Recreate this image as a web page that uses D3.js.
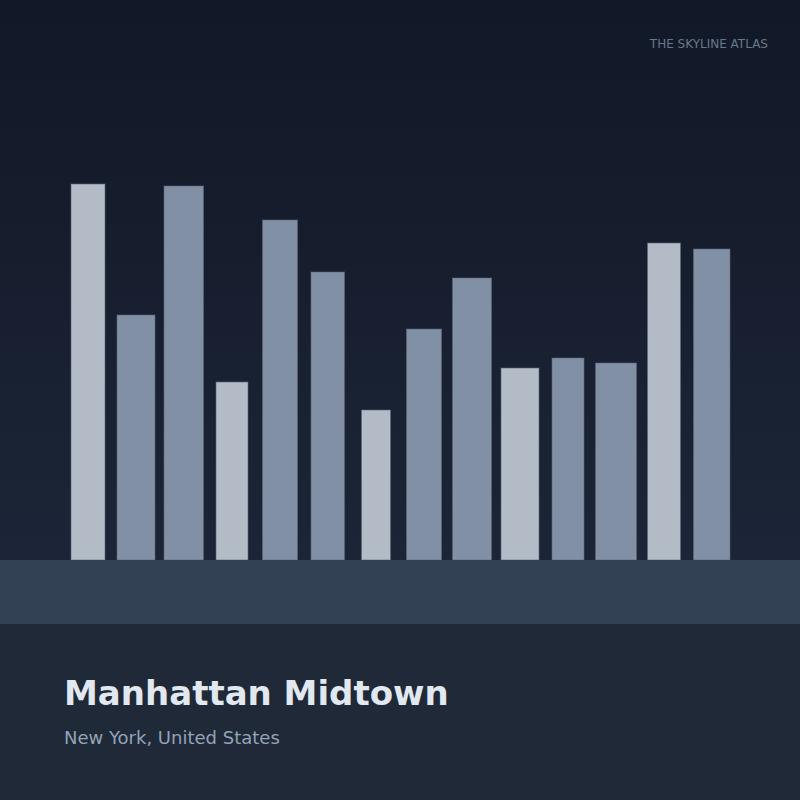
<!DOCTYPE html>
<html>
<head>
<meta charset="utf-8">
<script src="https://cdn.jsdelivr.net/npm/d3@7"></script>
<style>
  html, body { margin: 0; padding: 0; background: #111827; }
  svg { display: block; }
  text { font-family: "DejaVu Sans", sans-serif; }
</style>
</head>
<body>
<div id="chart"></div>
<script>
// Skyline data
const buildings = ['B1', 'B2', 'B3', 'B4', 'B5', 'B6', 'B7', 'B8', 'B9', 'B10', 'B11', 'B12', 'B13', 'B14'];
const heights = [376, 245, 374, 178, 340, 288, 150, 231, 282, 192, 202, 197, 317, 311];
const lotStart = [71, 117, 164, 216, 262.5, 311, 361.5, 406.5, 452.5, 501, 552, 595.5, 647.5, 693.5];
const lotWidth = [34, 38, 39.5, 32, 35, 33.5, 29, 35, 39, 38, 32, 41, 33, 36.5];
const title = 'Manhattan Midtown';
const subtitle = 'New York, United States';
const brand = 'THE SKYLINE ATLAS';

const width = 800;
const height = 800;
const groundY = 560;
const groundH = 64;

const svg = d3.select('#chart').append('svg')
  .attr('width', width)
  .attr('height', height);

// sky gradient
const defs = svg.append('defs');
const sky = defs.append('linearGradient')
  .attr('id', 'sky')
  .attr('x1', 0).attr('y1', 0).attr('x2', 0).attr('y2', 1);
sky.append('stop').attr('offset', '0%').attr('stop-color', '#111827');
sky.append('stop').attr('offset', '100%').attr('stop-color', '#1c2537');

svg.append('rect')
  .attr('width', width).attr('height', groundY)
  .attr('fill', 'url(#sky)');

// scales
const x = d3.scaleLinear().domain([0, width]).range([0, width]);
const y = d3.scaleLinear().domain([0, 500]).range([groundY, groundY - 500]);

const rows = buildings.map((name, i) => ({
  name,
  h: heights[i],
  x0: lotStart[i],
  w: lotWidth[i],
  light: i % 3 === 0
}));

svg.append('g').selectAll('.building')
  .data(rows)
  .enter().append('rect')
    .attr('class', 'building')
    .attr('x', d => x(d.x0))
    .attr('y', d => y(d.h))
    .attr('width', d => x(d.x0 + d.w) - x(d.x0))
    .attr('height', d => y(0) - y(d.h))
    .attr('fill', d => d.light ? '#b3bbc7' : '#8190a5')
    .attr('stroke', '#5b6678')
    .attr('stroke-opacity', 0.6)
    .attr('stroke-width', 1);

// ground band
svg.append('rect')
  .attr('y', groundY).attr('width', width).attr('height', groundH)
  .attr('fill', '#334155');

// bottom panel
svg.append('rect')
  .attr('y', groundY + groundH).attr('width', width).attr('height', height - groundY - groundH)
  .attr('fill', '#1f2937');

// texts
svg.append('text')
  .attr('x', 768).attr('y', 48)
  .attr('text-anchor', 'end')
  .attr('font-size', 12)
  .attr('fill', '#6b778a')
  .text(brand);

svg.append('text')
  .attr('x', 64).attr('y', 705)
  .attr('font-size', 34)
  .attr('font-weight', 'bold')
  .attr('fill', '#e2e8f0')
  .text(title);

svg.append('text')
  .attr('x', 64).attr('y', 744)
  .attr('font-size', 18)
  .attr('fill', '#94a3b8')
  .text(subtitle);
</script>
</body>
</html>
